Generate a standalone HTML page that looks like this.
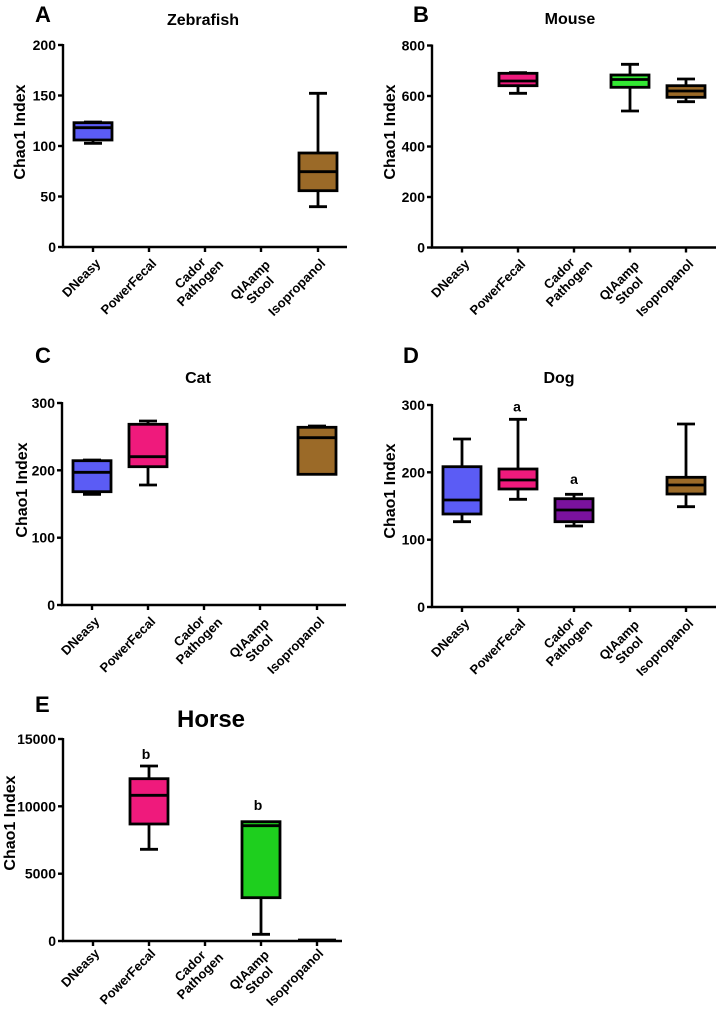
<!DOCTYPE html>
<html>
<head>
<meta charset="utf-8">
<style>
html,body{margin:0;padding:0;background:#fff;}
svg{display:block;}
text{font-family:"Liberation Sans",Arial,sans-serif;font-weight:bold;fill:#000;}
.tk{font-size:14px;}
.xl{font-size:13px;}
.yt{font-size:16px;}
.ti{font-size:16px;}
.pl{font-size:22px;}
.an{font-size:14px;}
</style>
</head>
<body>
<svg width="719" height="1024" viewBox="0 0 719 1024" xmlns="http://www.w3.org/2000/svg">
<rect width="719" height="1024" fill="#fff"/>

<!-- ================= Panel A ================= -->
<text class="pl" x="35" y="22">A</text>
<text class="ti" x="203" y="25" text-anchor="middle">Zebrafish</text>
<text class="yt" transform="translate(25,132) rotate(-90)" text-anchor="middle">Chao1 Index</text>
<g stroke="#000" stroke-width="2.4" fill="none">
  <line x1="63" y1="44" x2="63" y2="248"/>
  <line x1="62" y1="247" x2="347" y2="247"/>
  <line x1="58" y1="45" x2="63" y2="45"/>
  <line x1="58" y1="95.5" x2="63" y2="95.5"/>
  <line x1="58" y1="146" x2="63" y2="146"/>
  <line x1="58" y1="196.5" x2="63" y2="196.5"/>
  <line x1="58" y1="247" x2="63" y2="247"/>
  <line x1="93" y1="247" x2="93" y2="252"/>
  <line x1="149" y1="247" x2="149" y2="252"/>
  <line x1="205" y1="247" x2="205" y2="252"/>
  <line x1="261" y1="247" x2="261" y2="252"/>
  <line x1="318" y1="247" x2="318" y2="252"/>
</g>
<g class="tk" text-anchor="end">
  <text x="56" y="50">200</text>
  <text x="56" y="100.5">150</text>
  <text x="56" y="151">100</text>
  <text x="56" y="201.5">50</text>
  <text x="56" y="252">0</text>
</g>
<g stroke="#000" stroke-width="2.8">
  <line x1="93" y1="140" x2="93" y2="143.3"/>
  <line x1="84" y1="122" x2="102" y2="122"/>
  <line x1="84" y1="143.3" x2="102" y2="143.3"/>
  <rect x="74" y="122.7" width="38" height="17.3" fill="#5b5cf5"/>
  <line x1="74" y1="127.7" x2="112" y2="127.7"/>

  <line x1="318" y1="93.3" x2="318" y2="153"/>
  <line x1="318" y1="190.7" x2="318" y2="206.7"/>
  <line x1="309" y1="93.3" x2="327" y2="93.3"/>
  <line x1="309" y1="206.7" x2="327" y2="206.7"/>
  <rect x="299" y="153" width="38" height="37.7" fill="#9b6a28"/>
  <line x1="299" y1="171.7" x2="337" y2="171.7"/>
</g>
<g class="xl">
  <text transform="translate(98,261) rotate(-45)" text-anchor="end" y="4.5">DNeasy</text>
  <text transform="translate(154,261) rotate(-45)" text-anchor="end" y="4.5">PowerFecal</text>
  <text transform="translate(195,278) rotate(-45)" text-anchor="middle"><tspan x="0" y="-2.5">Cador</tspan><tspan x="0" y="11.5">Pathogen</tspan></text>
  <text transform="translate(255,285) rotate(-45)" text-anchor="middle"><tspan x="0" y="-2.5">QIAamp</tspan><tspan x="0" y="11.5">Stool</tspan></text>
  <text transform="translate(323,261) rotate(-45)" text-anchor="end" y="4.5">Isopropanol</text>
</g>

<!-- ================= Panel B ================= -->
<text class="pl" x="413" y="22">B</text>
<text class="ti" x="570" y="24" text-anchor="middle">Mouse</text>
<text class="yt" transform="translate(395,132) rotate(-90)" text-anchor="middle">Chao1 Index</text>
<g stroke="#000" stroke-width="2.4" fill="none">
  <line x1="432" y1="44.5" x2="432" y2="248.5"/>
  <line x1="431" y1="247.5" x2="716" y2="247.5"/>
  <line x1="427" y1="45.5" x2="432" y2="45.5"/>
  <line x1="427" y1="96" x2="432" y2="96"/>
  <line x1="427" y1="146.5" x2="432" y2="146.5"/>
  <line x1="427" y1="197" x2="432" y2="197"/>
  <line x1="427" y1="247.5" x2="432" y2="247.5"/>
  <line x1="462" y1="247.5" x2="462" y2="252.5"/>
  <line x1="518" y1="247.5" x2="518" y2="252.5"/>
  <line x1="574" y1="247.5" x2="574" y2="252.5"/>
  <line x1="630" y1="247.5" x2="630" y2="252.5"/>
  <line x1="686" y1="247.5" x2="686" y2="252.5"/>
</g>
<g class="tk" text-anchor="end">
  <text x="425" y="50.5">800</text>
  <text x="425" y="101">600</text>
  <text x="425" y="151.5">400</text>
  <text x="425" y="202">200</text>
  <text x="425" y="252.5">0</text>
</g>
<g stroke="#000" stroke-width="2.8">
  <line x1="518" y1="85.7" x2="518" y2="93.3"/>
  <line x1="509" y1="72.7" x2="527" y2="72.7"/>
  <line x1="509" y1="93.3" x2="527" y2="93.3"/>
  <rect x="499" y="73.3" width="38" height="12.4" fill="#ef1a7c"/>
  <line x1="499" y1="81" x2="537" y2="81"/>

  <line x1="630" y1="64.3" x2="630" y2="75"/>
  <line x1="630" y1="87.3" x2="630" y2="111"/>
  <line x1="621" y1="64.3" x2="639" y2="64.3"/>
  <line x1="621" y1="111" x2="639" y2="111"/>
  <rect x="611" y="75" width="38" height="12.3" fill="#33e833"/>
  <line x1="611" y1="79.5" x2="649" y2="79.5"/>

  <line x1="686" y1="79" x2="686" y2="85.7"/>
  <line x1="686" y1="97.3" x2="686" y2="101.7"/>
  <line x1="677" y1="79" x2="695" y2="79"/>
  <line x1="677" y1="101.7" x2="695" y2="101.7"/>
  <rect x="667" y="85.7" width="38" height="11.6" fill="#9b6a28"/>
  <line x1="667" y1="91" x2="705" y2="91"/>
</g>
<g class="xl">
  <text transform="translate(467,261.5) rotate(-45)" text-anchor="end" y="4.5">DNeasy</text>
  <text transform="translate(523,261.5) rotate(-45)" text-anchor="end" y="4.5">PowerFecal</text>
  <text transform="translate(564,278.5) rotate(-45)" text-anchor="middle"><tspan x="0" y="-2.5">Cador</tspan><tspan x="0" y="11.5">Pathogen</tspan></text>
  <text transform="translate(624,285.5) rotate(-45)" text-anchor="middle"><tspan x="0" y="-2.5">QIAamp</tspan><tspan x="0" y="11.5">Stool</tspan></text>
  <text transform="translate(691,261.5) rotate(-45)" text-anchor="end" y="4.5">Isopropanol</text>
</g>

<!-- ================= Panel C ================= -->
<text class="pl" x="35" y="363">C</text>
<text class="ti" x="198" y="383" text-anchor="middle">Cat</text>
<text class="yt" transform="translate(27,490) rotate(-90)" text-anchor="middle">Chao1 Index</text>
<g stroke="#000" stroke-width="2.4" fill="none">
  <line x1="62" y1="402" x2="62" y2="606"/>
  <line x1="61" y1="605" x2="346" y2="605"/>
  <line x1="57" y1="403" x2="62" y2="403"/>
  <line x1="57" y1="470.3" x2="62" y2="470.3"/>
  <line x1="57" y1="537.7" x2="62" y2="537.7"/>
  <line x1="57" y1="605" x2="62" y2="605"/>
  <line x1="92" y1="605" x2="92" y2="610"/>
  <line x1="148" y1="605" x2="148" y2="610"/>
  <line x1="204" y1="605" x2="204" y2="610"/>
  <line x1="260" y1="605" x2="260" y2="610"/>
  <line x1="317" y1="605" x2="317" y2="610"/>
</g>
<g class="tk" text-anchor="end">
  <text x="55" y="408">300</text>
  <text x="55" y="475.3">200</text>
  <text x="55" y="542.7">100</text>
  <text x="55" y="610">0</text>
</g>
<g stroke="#000" stroke-width="2.8">
  <line x1="92" y1="491.7" x2="92" y2="494.3"/>
  <line x1="83" y1="460" x2="101" y2="460"/>
  <line x1="83" y1="494.3" x2="101" y2="494.3"/>
  <rect x="73" y="460.7" width="38" height="31" fill="#5b5cf5"/>
  <line x1="73" y1="472.3" x2="111" y2="472.3"/>

  <line x1="148" y1="421" x2="148" y2="424.3"/>
  <line x1="148" y1="466.7" x2="148" y2="485"/>
  <line x1="139" y1="421" x2="157" y2="421"/>
  <line x1="139" y1="485" x2="157" y2="485"/>
  <rect x="129" y="424.3" width="38" height="42.4" fill="#ef1a7c"/>
  <line x1="129" y1="456.7" x2="167" y2="456.7"/>

  <line x1="308" y1="426" x2="326" y2="426"/>
  <rect x="298" y="427.3" width="38" height="47" fill="#9b6a28"/>
  <line x1="298" y1="437.7" x2="336" y2="437.7"/>
</g>
<g class="xl">
  <text transform="translate(97,619) rotate(-45)" text-anchor="end" y="4.5">DNeasy</text>
  <text transform="translate(153,619) rotate(-45)" text-anchor="end" y="4.5">PowerFecal</text>
  <text transform="translate(194,636) rotate(-45)" text-anchor="middle"><tspan x="0" y="-2.5">Cador</tspan><tspan x="0" y="11.5">Pathogen</tspan></text>
  <text transform="translate(254,643) rotate(-45)" text-anchor="middle"><tspan x="0" y="-2.5">QIAamp</tspan><tspan x="0" y="11.5">Stool</tspan></text>
  <text transform="translate(322,619) rotate(-45)" text-anchor="end" y="4.5">Isopropanol</text>
</g>

<!-- ================= Panel D ================= -->
<text class="pl" x="403" y="363">D</text>
<text class="ti" x="559" y="383" text-anchor="middle">Dog</text>
<text class="yt" transform="translate(395,491) rotate(-90)" text-anchor="middle">Chao1 Index</text>
<g stroke="#000" stroke-width="2.4" fill="none">
  <line x1="432" y1="404" x2="432" y2="608"/>
  <line x1="431" y1="607" x2="716" y2="607"/>
  <line x1="427" y1="405" x2="432" y2="405"/>
  <line x1="427" y1="472.3" x2="432" y2="472.3"/>
  <line x1="427" y1="539.7" x2="432" y2="539.7"/>
  <line x1="427" y1="607" x2="432" y2="607"/>
  <line x1="462" y1="607" x2="462" y2="612"/>
  <line x1="518" y1="607" x2="518" y2="612"/>
  <line x1="574" y1="607" x2="574" y2="612"/>
  <line x1="630" y1="607" x2="630" y2="612"/>
  <line x1="686" y1="607" x2="686" y2="612"/>
</g>
<g class="tk" text-anchor="end">
  <text x="425" y="410">300</text>
  <text x="425" y="477.3">200</text>
  <text x="425" y="544.7">100</text>
  <text x="425" y="612">0</text>
</g>
<g stroke="#000" stroke-width="2.8">
  <line x1="462" y1="439" x2="462" y2="466.7"/>
  <line x1="462" y1="514" x2="462" y2="521.7"/>
  <line x1="453" y1="439" x2="471" y2="439"/>
  <line x1="453" y1="521.7" x2="471" y2="521.7"/>
  <rect x="443" y="466.7" width="38" height="47.3" fill="#5b5cf5"/>
  <line x1="443" y1="500" x2="481" y2="500"/>

  <line x1="518" y1="419.3" x2="518" y2="469"/>
  <line x1="518" y1="489" x2="518" y2="499.3"/>
  <line x1="509" y1="419.3" x2="527" y2="419.3"/>
  <line x1="509" y1="499.3" x2="527" y2="499.3"/>
  <rect x="499" y="469" width="38" height="20" fill="#ef1a7c"/>
  <line x1="499" y1="480" x2="537" y2="480"/>

  <line x1="574" y1="494.3" x2="574" y2="498.7"/>
  <line x1="574" y1="521.7" x2="574" y2="526"/>
  <line x1="565" y1="494.3" x2="583" y2="494.3"/>
  <line x1="565" y1="526" x2="583" y2="526"/>
  <rect x="555" y="498.7" width="38" height="23" fill="#7a129e"/>
  <line x1="555" y1="510" x2="593" y2="510"/>

  <line x1="686" y1="424" x2="686" y2="477.3"/>
  <line x1="686" y1="494" x2="686" y2="506.7"/>
  <line x1="677" y1="424" x2="695" y2="424"/>
  <line x1="677" y1="506.7" x2="695" y2="506.7"/>
  <rect x="667" y="477.3" width="38" height="16.7" fill="#9b6a28"/>
  <line x1="667" y1="485" x2="705" y2="485"/>
</g>
<text class="an" x="517" y="411.5" text-anchor="middle">a</text>
<text class="an" x="574" y="484" text-anchor="middle">a</text>
<g class="xl">
  <text transform="translate(467,621) rotate(-45)" text-anchor="end" y="4.5">DNeasy</text>
  <text transform="translate(523,621) rotate(-45)" text-anchor="end" y="4.5">PowerFecal</text>
  <text transform="translate(564,638) rotate(-45)" text-anchor="middle"><tspan x="0" y="-2.5">Cador</tspan><tspan x="0" y="11.5">Pathogen</tspan></text>
  <text transform="translate(624,645) rotate(-45)" text-anchor="middle"><tspan x="0" y="-2.5">QIAamp</tspan><tspan x="0" y="11.5">Stool</tspan></text>
  <text transform="translate(691,621) rotate(-45)" text-anchor="end" y="4.5">Isopropanol</text>
</g>

<!-- ================= Panel E ================= -->
<text class="pl" x="35" y="712">E</text>
<text x="211" y="727" text-anchor="middle" style="font-size:24px">Horse</text>
<text class="yt" transform="translate(15,823) rotate(-90)" text-anchor="middle">Chao1 Index</text>
<g stroke="#000" stroke-width="2.4" fill="none">
  <line x1="63" y1="738" x2="63" y2="942"/>
  <line x1="62" y1="941" x2="342" y2="941"/>
  <line x1="58" y1="739" x2="63" y2="739"/>
  <line x1="58" y1="806.3" x2="63" y2="806.3"/>
  <line x1="58" y1="873.7" x2="63" y2="873.7"/>
  <line x1="58" y1="941" x2="63" y2="941"/>
  <line x1="93" y1="941" x2="93" y2="946"/>
  <line x1="149" y1="941" x2="149" y2="946"/>
  <line x1="205" y1="941" x2="205" y2="946"/>
  <line x1="261" y1="941" x2="261" y2="946"/>
  <line x1="317" y1="941" x2="317" y2="946"/>
</g>
<g class="tk" text-anchor="end">
  <text x="56" y="744">15000</text>
  <text x="56" y="811.3">10000</text>
  <text x="56" y="878.7">5000</text>
  <text x="56" y="946">0</text>
</g>
<g stroke="#000" stroke-width="2.8">
  <line x1="149" y1="766" x2="149" y2="778.7"/>
  <line x1="149" y1="824" x2="149" y2="849.3"/>
  <line x1="140" y1="766" x2="158" y2="766"/>
  <line x1="140" y1="849.3" x2="158" y2="849.3"/>
  <rect x="130" y="778.7" width="38" height="45.3" fill="#ef1a7c"/>
  <line x1="130" y1="795.3" x2="168" y2="795.3"/>

  <line x1="261" y1="897.7" x2="261" y2="934.3"/>
  <line x1="252" y1="934.3" x2="270" y2="934.3"/>
  <rect x="242" y="821.7" width="38" height="76" fill="#1ecf1e"/>
  <line x1="242" y1="825.7" x2="280" y2="825.7"/>

  <line x1="298" y1="940" x2="336" y2="940"/>
</g>
<text class="an" x="146" y="759" text-anchor="middle">b</text>
<text class="an" x="258" y="810" text-anchor="middle">b</text>
<g class="xl">
  <text transform="translate(97,951) rotate(-45)" text-anchor="end" y="4.5">DNeasy</text>
  <text transform="translate(153,951) rotate(-45)" text-anchor="end" y="4.5">PowerFecal</text>
  <text transform="translate(195,971) rotate(-45)" text-anchor="middle"><tspan x="0" y="-2.5">Cador</tspan><tspan x="0" y="11.5">Pathogen</tspan></text>
  <text transform="translate(254,975) rotate(-45)" text-anchor="middle"><tspan x="0" y="-2.5">QIAamp</tspan><tspan x="0" y="11.5">Stool</tspan></text>
  <text transform="translate(321,951) rotate(-45)" text-anchor="end" y="4.5">Isopropanol</text>
</g>
</svg>
</body>
</html>
